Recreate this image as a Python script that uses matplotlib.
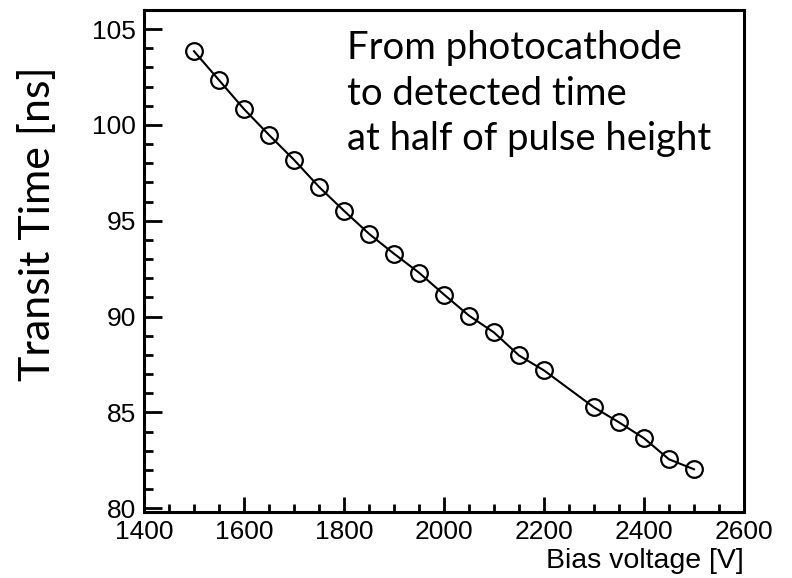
import matplotlib.pyplot as plt
from matplotlib.ticker import MultipleLocator

# bias voltage [V] and transit time [ns]
voltage = [1500, 1550, 1600, 1650, 1700, 1750, 1800, 1850, 1900, 1950,
           2000, 2050, 2100, 2150, 2200, 2300, 2350, 2400, 2450, 2500]
transit = [103.85, 102.34, 100.83, 99.48, 98.18, 96.77, 95.52, 94.32, 93.28, 92.29,
           91.15, 90.05, 89.17, 87.97, 87.19, 85.26, 84.48, 83.65, 82.55, 82.03]

note = "From photocathode\nto detected time\nat half of pulse height"

fig = plt.figure(figsize=(7.92, 5.78), dpi=100)
ax = fig.add_axes([144 / 792, 1 - 512 / 578, 600 / 792, 502 / 578])

ax.plot(voltage, transit, color="black", lw=1.5, marker="o", ms=12,
        mfc="none", mec="black", mew=1.6)

ax.set_xlim(1400, 2600)
ax.set_ylim(79.8, 106.0)
ax.xaxis.set_major_locator(MultipleLocator(200))
ax.xaxis.set_minor_locator(MultipleLocator(50))
ax.yaxis.set_major_locator(MultipleLocator(5))
ax.yaxis.set_minor_locator(MultipleLocator(1))

for s in ax.spines.values():
    s.set_linewidth(2.2)
ax.tick_params(which="both", direction="in", top=False, right=False, width=2.0)
ax.tick_params(axis="y", which="major", length=13, pad=6)
ax.tick_params(axis="y", which="minor", length=6.5)
ax.tick_params(axis="x", which="major", length=11, pad=6)
ax.tick_params(axis="x", which="minor", length=6)
for lab in ax.get_xticklabels() + ax.get_yticklabels():
    lab.set_family("Liberation Sans")
    lab.set_fontsize(19)

ax.set_xlabel("Bias voltage [V]", family="Liberation Sans", fontsize=20.5)
ax.xaxis.set_label_coords(1.0, -0.072)
ax.xaxis.label.set_horizontalalignment("right")

fig.text(38 / 792, 1 - 224 / 578, "Transit Time [ns]", family="Lato", fontsize=31,
         rotation=90, ha="center", va="center")

fig.text(347 / 792, 1 - 30 / 578, note, family="Lato", fontsize=27.5,
         ha="left", va="top", linespacing=1.33)

fig.savefig("out.png", dpi=100)
